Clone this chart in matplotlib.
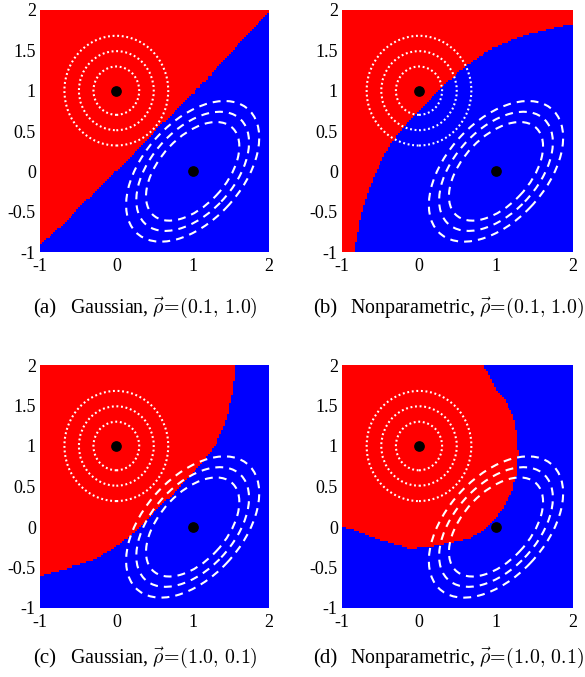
import numpy as np
import matplotlib
matplotlib.use('Agg')
import matplotlib.pyplot as plt
from matplotlib.colors import ListedColormap
from matplotlib.patches import Circle, Ellipse
from matplotlib.path import Path

plt.rcParams['font.family'] = 'Liberation Serif'
plt.rcParams['mathtext.fontset'] = 'cm'

# class means
mean_red = (0.0, 1.0)
mean_blue = (1.0, 0.0)

# contour shapes
circle_radii = [0.30, 0.49, 0.68]
ellipse_widths = [1.50, 1.80, 2.12]
ellipse_heights = [0.86, 1.06, 1.26]
ellipse_angle = 45

# decision boundaries (points along the red/blue edge), one per panel
a_bx = [-1.0, -0.75, -0.5, -0.25, 0.0, 0.25, 0.5, 0.75, 1.0, 1.25, 1.5, 1.75, 2.0]
a_by = [-0.91, -0.70, -0.47, -0.23, 0.0, 0.24, 0.48, 0.72, 0.95, 1.20, 1.46, 1.72, 1.97]
a_close = [(2.0, 2.0), (-1.0, 2.0)]

b_bx = [-0.83, -0.81, -0.75, -0.64, -0.51, -0.34, -0.16, 0.0, 0.14, 0.36, 0.62, 0.92, 1.36, 1.79, 2.0]
b_by = [-1.0, -0.87, -0.53, -0.20, 0.09, 0.38, 0.59, 0.74, 0.88, 1.09, 1.31, 1.50, 1.67, 1.77, 1.81]
b_close = [(2.0, 2.0), (-1.0, 2.0), (-1.0, -1.0)]

c_bx = [-1.0, -0.65, -0.30, -0.04, 0.22, 0.53, 0.83, 1.09, 1.31, 1.44, 1.53, 1.55]
c_by = [-0.60, -0.51, -0.41, -0.27, -0.08, 0.21, 0.50, 0.74, 1.03, 1.32, 1.69, 2.0]
c_close = [(-1.0, 2.0)]

d_bx = [0.84, 0.92, 1.01, 1.14, 1.23, 1.27, 1.29, 1.27, 1.21, 1.10, 0.97, 0.84, 0.66,
        0.40, 0.14, -0.12, -0.29, -0.51, -0.73, -0.90, -1.0]
d_by = [2.0, 1.86, 1.69, 1.53, 1.36, 1.16, 0.91, 0.66, 0.45, 0.25, 0.08, -0.04, -0.14,
        -0.20, -0.25, -0.27, -0.22, -0.16, -0.08, -0.02, 0.0]
d_close = [(-1.0, 2.0)]

caption_tags = ['(a)', '(b)', '(c)', '(d)']
caption_names = ['Gaussian,', 'Nonparametric,', 'Gaussian,', 'Nonparametric,']
caption_rho = [r'$\vec{\rho}\!=\!(0.1,\,1.0)$', r'$\vec{\rho}\!=\!(0.1,\,1.0)$',
               r'$\vec{\rho}\!=\!(1.0,\,0.1)$', r'$\vec{\rho}\!=\!(1.0,\,0.1)$']

W, H = 585, 677
axes_px = [(40, 10, 229, 242), (342, 10, 231, 242), (40, 365, 229, 243), (342, 365, 231, 243)]
# (tag x, name x, baseline y)
caption_px = [(33, 70, 313), (313, 350, 313), (33, 70, 663), (313, 350, 663)]

fig = plt.figure(figsize=(W / 100, H / 100), dpi=100)


def region_image(bx, by, close, n=120):
    verts = list(zip(bx, by)) + close
    path = Path(verts + [verts[0]])
    g = (np.arange(n) + 0.5) / n * 3 - 1
    gx, gy = np.meshgrid(g, g)
    inside = path.contains_points(np.column_stack([gx.ravel(), gy.ravel()]))
    return inside.reshape(n, n).astype(float)


panels = [(a_bx, a_by, a_close), (b_bx, b_by, b_close), (c_bx, c_by, c_close), (d_bx, d_by, d_close)]

for i, (bx, by, close) in enumerate(panels):
    l, t, w, h = axes_px[i]
    ax = fig.add_axes([l / W, 1 - (t + h) / H, w / W, h / H])
    img = region_image(bx, by, close)
    ax.imshow(img, extent=[-1, 2, -1, 2], origin='lower', cmap=ListedColormap(['#0000ff', '#ff0000']),
              vmin=0, vmax=1, interpolation='nearest', aspect='auto')
    for r in circle_radii:
        ax.add_patch(Circle(mean_red, r, fill=False, ec='white', lw=1.5, ls=(0, (0.9, 1.3))))
    for ew, eh in zip(ellipse_widths, ellipse_heights):
        ax.add_patch(Ellipse(mean_blue, ew, eh, angle=ellipse_angle, fill=False, ec='white',
                             lw=1.5, ls=(0, (3.8, 2.9))))
    ax.plot([mean_red[0], mean_blue[0]], [mean_red[1], mean_blue[1]], 'o', color='black', ms=6.7, ls='none')
    ax.set_xlim(-1, 2)
    ax.set_ylim(-1, 2)
    ax.set_xticks([-1, 0, 1, 2])
    ax.set_xticklabels(['-1', '0', '1', '2'])
    ax.set_yticks([-1, -0.5, 0, 0.5, 1, 1.5, 2])
    ax.set_yticklabels(['-1', '-0.5', '0', '0.5', '1', '1.5', '2'])
    ax.tick_params(length=0, labelsize=13)
    ax.tick_params(axis='x', pad=4)
    ax.tick_params(axis='y', pad=3)
    for s in ax.spines.values():
        s.set_visible(False)

    tx, nx, by_ = caption_px[i]
    fig.text(tx / W, 1 - by_ / H, caption_tags[i], fontsize=15, ha='left', va='baseline')
    fig.text(nx / W, 1 - by_ / H, caption_names[i] + ' ' + caption_rho[i], fontsize=14.3,
             ha='left', va='baseline')

fig.savefig('out.png', dpi=100)
